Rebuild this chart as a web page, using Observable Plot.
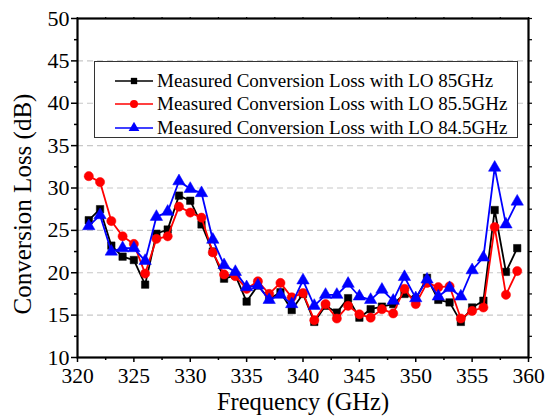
<!DOCTYPE html>
<html>
<head>
<meta charset="utf-8">
<script src="https://cdn.jsdelivr.net/npm/d3@7"></script>
<script src="https://cdn.jsdelivr.net/npm/@observablehq/plot@0.6"></script>
<style>
  body { margin: 0; background: white; }
  #wrap { position: relative; width: 549px; height: 420px; font-family: "Liberation Serif", "Times New Roman", serif; }
  #legend { position: absolute; left: 94px; top: 61px; width: 424px; height: 77px; border: 1px solid #333; background: white; box-sizing: border-box; padding-top: 7px; }
  .row { display: flex; align-items: center; height: 23.5px; font-size: 19px; color: #000; }
  .row svg { margin-left: 20px; margin-right: 4px; }
</style>
</head>
<body>
<div id="wrap"></div>
<script>
const freq = [321,322,323,324,325,326,327,328,329,330,331,332,333,334,335,336,337,338,339,340,341,342,343,344,345,346,347,348,349,350,351,352,353,354,355,356,357,358,359];
const lo85 = [26.2,27.5,23.2,21.9,21.5,18.6,24.6,25.1,29.1,28.5,25.7,22.5,19.3,19.7,16.6,18.5,16.9,17.7,15.6,17.5,14.2,16.1,15.3,17.0,14.7,15.7,16.0,16.3,17.5,16.9,19.4,16.8,16.5,14.2,15.9,16.7,27.4,20.1,22.9];
const lo855 = [31.4,30.7,26.1,24.3,23.4,19.9,24.0,24.3,27.8,27.1,26.5,22.4,19.8,19.6,18.1,19.0,17.5,18.8,17.1,17.6,14.4,16.3,14.6,16.1,15.1,14.7,15.7,15.2,18.1,16.3,18.8,18.3,18.4,14.6,15.5,15.9,25.4,17.4,20.2];
const lo845 = [25.5,26.8,22.5,22.9,22.9,21.4,26.6,27.2,30.8,29.9,29.4,23.9,20.9,20.1,18.3,18.5,16.8,17.4,16.3,19.1,16.1,17.4,17.4,18.7,17.2,16.8,18.0,16.7,19.5,17.0,19.2,17.2,18.2,17.2,20.3,21.8,32.4,25.7,28.4];
const seriesNames = ["Measured Conversion Loss with LO 85GHz", "Measured Conversion Loss with LO 85.5GHz", "Measured Conversion Loss with LO 84.5GHz"];
const seriesColors = ["#000000", "#ff0000", "#0000ff"];
const seriesSymbols = ["square", "circle", "triangle"];
const xTicks = [320,325,330,335,340,345,350,355,360];
const xMinor = [322.5,327.5,332.5,337.5,342.5,347.5,352.5,357.5];
const yTicks = [10,15,20,25,30,35,40,45,50];
const yMinor = [12.5,17.5,22.5,27.5,32.5,37.5,42.5,47.5];
const yGrid = [15,20,25,30,35,40,45];
const xLabel = "Frequency (GHz)";
const yLabel = "Conversion Loss (dB)";

const allSeries = [lo85, lo855, lo845];
const data = allSeries.flatMap((vals, s) => vals.map((v, i) => ({f: freq[i], v, s: seriesNames[s]})));

const seriesMarks = allSeries.flatMap((vals, s) => {
  const d = data.filter(r => r.s === seriesNames[s]);
  return [
    Plot.line(d, {x: "f", y: "v", stroke: seriesColors[s], strokeWidth: 1.8}),
    Plot.dot(d, {x: "f", y: "v", fill: seriesColors[s], stroke: seriesColors[s], symbol: seriesSymbols[s], r: s === 0 ? 4.2 : 4.6, strokeWidth: 0.5})
  ];
});

const serif = "Liberation Serif";
const chart = Plot.plot({
  width: 549,
  height: 420,
  marginLeft: 77,
  marginRight: 21,
  marginTop: 18,
  marginBottom: 63,
  style: {fontFamily: serif, fontSize: "22px", background: "white", color: "#000"},
  x: {domain: [320, 360]},
  y: {domain: [10, 50]},
  marks: [
    Plot.ruleY(yGrid, {stroke: "#c8c8c8", strokeDasharray: "6,4", strokeWidth: 1.2}),
    Plot.axisX({ticks: xTicks, tickSize: 5, tickPadding: 5, tickFormat: d => d, label: null, strokeWidth: 1.5, fontSize: 21.5, fontFamily: serif}),
    Plot.axisX({ticks: xMinor, tickSize: 3, tickFormat: () => "", label: null, strokeWidth: 1.5}),
    Plot.axisX({anchor: "top", ticks: xTicks.concat(xMinor), tickSize: 2, tickFormat: () => "", label: null, strokeWidth: 1.2}),
    Plot.axisY({ticks: yTicks, tickSize: 6, tickPadding: 2, tickFormat: d => d, label: null, strokeWidth: 1.5, fontSize: 22, fontFamily: serif}),
    Plot.axisY({ticks: yMinor, tickSize: 3, tickFormat: () => "", label: null, strokeWidth: 1.5}),
    Plot.axisY({anchor: "right", ticks: yTicks.concat(yMinor), tickSize: 3, tickFormat: () => "", label: null, strokeWidth: 1.2}),
    ...seriesMarks,
    Plot.frame({stroke: "#000", strokeWidth: 2.2}),
    Plot.text([xLabel], {frameAnchor: "bottom", dy: 52, text: d => d, fontSize: 24.5, fill: "#000", fontFamily: serif}),
    Plot.text([yLabel], {frameAnchor: "left", textAnchor: "middle", dx: -55, dy: 16, rotate: -90, text: d => d, fontSize: 25, fill: "#000", fontFamily: serif})
  ]
});

chart.querySelectorAll("text, g").forEach(el => el.style.setProperty("font-family", "'Liberation Serif', 'Times New Roman', serif", "important"));
chart.style.setProperty("font-family", "'Liberation Serif', 'Times New Roman', serif", "important");

const wrap = document.getElementById("wrap");
wrap.appendChild(chart);

const legend = document.createElement("div");
legend.id = "legend";
seriesNames.forEach((name, s) => {
  const row = document.createElement("div");
  row.className = "row";
  const ns = "http://www.w3.org/2000/svg";
  const svg = document.createElementNS(ns, "svg");
  svg.setAttribute("width", 38); svg.setAttribute("height", 12);
  const line = document.createElementNS(ns, "line");
  line.setAttribute("x1", 0); line.setAttribute("x2", 38); line.setAttribute("y1", 6); line.setAttribute("y2", 6);
  line.setAttribute("stroke", seriesColors[s]); line.setAttribute("stroke-width", 1.6);
  svg.appendChild(line);
  const p = document.createElementNS(ns, "path");
  const sym = {square: d3.symbolSquare, circle: d3.symbolCircle, triangle: d3.symbolTriangle}[seriesSymbols[s]];
  p.setAttribute("d", d3.symbol(sym, s === 0 ? 40 : 50)());
  p.setAttribute("transform", "translate(19,6)");
  p.setAttribute("fill", seriesColors[s]);
  svg.appendChild(p);
  row.appendChild(svg);
  const t = document.createElement("span");
  t.textContent = name;
  row.appendChild(t);
  legend.appendChild(row);
});
wrap.appendChild(legend);
</script>
</body>
</html>
